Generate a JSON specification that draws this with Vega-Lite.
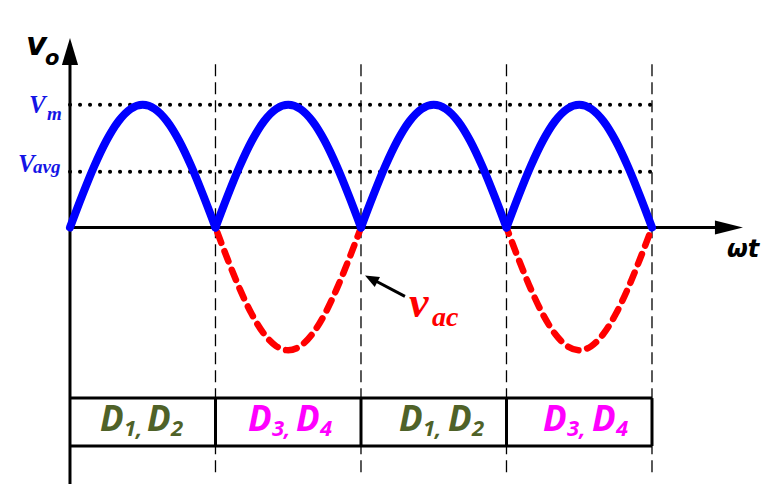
{
  "$schema": "https://vega.github.io/schema/vega-lite/v6.json",
  "autosize": {"type": "fit", "contains": "padding"},
  "width": 778,
  "height": 486,
  "padding": 0,
  "background": "white",
  "config": {"view": {"stroke": null}},
  "datasets": {
    "vac": [
      {"x": 0, "y": 0}, {"x": 0.0833, "y": 0.2588}, {"x": 0.1667, "y": 0.5}, {"x": 0.25, "y": 0.7071}, {"x": 0.3333, "y": 0.866}, {"x": 0.4167, "y": 0.9659}, {"x": 0.5, "y": 1}, {"x": 0.5833, "y": 0.9659}, {"x": 0.6667, "y": 0.866}, {"x": 0.75, "y": 0.7071}, {"x": 0.8333, "y": 0.5}, {"x": 0.9167, "y": 0.2588},
      {"x": 1, "y": 0}, {"x": 1.0833, "y": -0.2588}, {"x": 1.1667, "y": -0.5}, {"x": 1.25, "y": -0.7071}, {"x": 1.3333, "y": -0.866}, {"x": 1.4167, "y": -0.9659}, {"x": 1.5, "y": -1}, {"x": 1.5833, "y": -0.9659}, {"x": 1.6667, "y": -0.866}, {"x": 1.75, "y": -0.7071}, {"x": 1.8333, "y": -0.5}, {"x": 1.9167, "y": -0.2588},
      {"x": 2, "y": 0}, {"x": 2.0833, "y": 0.2588}, {"x": 2.1667, "y": 0.5}, {"x": 2.25, "y": 0.7071}, {"x": 2.3333, "y": 0.866}, {"x": 2.4167, "y": 0.9659}, {"x": 2.5, "y": 1}, {"x": 2.5833, "y": 0.9659}, {"x": 2.6667, "y": 0.866}, {"x": 2.75, "y": 0.7071}, {"x": 2.8333, "y": 0.5}, {"x": 2.9167, "y": 0.2588},
      {"x": 3, "y": 0}, {"x": 3.0833, "y": -0.2588}, {"x": 3.1667, "y": -0.5}, {"x": 3.25, "y": -0.7071}, {"x": 3.3333, "y": -0.866}, {"x": 3.4167, "y": -0.9659}, {"x": 3.5, "y": -1}, {"x": 3.5833, "y": -0.9659}, {"x": 3.6667, "y": -0.866}, {"x": 3.75, "y": -0.7071}, {"x": 3.8333, "y": -0.5}, {"x": 3.9167, "y": -0.2588},
      {"x": 4, "y": 0}
    ],
    "vo": [
      {"s": 1, "x": 0, "y": 0}, {"s": 1, "x": 0.0833, "y": 0.2588}, {"s": 1, "x": 0.1667, "y": 0.5}, {"s": 1, "x": 0.25, "y": 0.7071}, {"s": 1, "x": 0.3333, "y": 0.866}, {"s": 1, "x": 0.4167, "y": 0.9659}, {"s": 1, "x": 0.5, "y": 1}, {"s": 1, "x": 0.5833, "y": 0.9659}, {"s": 1, "x": 0.6667, "y": 0.866}, {"s": 1, "x": 0.75, "y": 0.7071}, {"s": 1, "x": 0.8333, "y": 0.5}, {"s": 1, "x": 0.9167, "y": 0.2588}, {"s": 1, "x": 1, "y": 0},
      {"s": 2, "x": 1, "y": 0}, {"s": 2, "x": 1.0833, "y": 0.2588}, {"s": 2, "x": 1.1667, "y": 0.5}, {"s": 2, "x": 1.25, "y": 0.7071}, {"s": 2, "x": 1.3333, "y": 0.866}, {"s": 2, "x": 1.4167, "y": 0.9659}, {"s": 2, "x": 1.5, "y": 1}, {"s": 2, "x": 1.5833, "y": 0.9659}, {"s": 2, "x": 1.6667, "y": 0.866}, {"s": 2, "x": 1.75, "y": 0.7071}, {"s": 2, "x": 1.8333, "y": 0.5}, {"s": 2, "x": 1.9167, "y": 0.2588}, {"s": 2, "x": 2, "y": 0},
      {"s": 3, "x": 2, "y": 0}, {"s": 3, "x": 2.0833, "y": 0.2588}, {"s": 3, "x": 2.1667, "y": 0.5}, {"s": 3, "x": 2.25, "y": 0.7071}, {"s": 3, "x": 2.3333, "y": 0.866}, {"s": 3, "x": 2.4167, "y": 0.9659}, {"s": 3, "x": 2.5, "y": 1}, {"s": 3, "x": 2.5833, "y": 0.9659}, {"s": 3, "x": 2.6667, "y": 0.866}, {"s": 3, "x": 2.75, "y": 0.7071}, {"s": 3, "x": 2.8333, "y": 0.5}, {"s": 3, "x": 2.9167, "y": 0.2588}, {"s": 3, "x": 3, "y": 0},
      {"s": 4, "x": 3, "y": 0}, {"s": 4, "x": 3.0833, "y": 0.2588}, {"s": 4, "x": 3.1667, "y": 0.5}, {"s": 4, "x": 3.25, "y": 0.7071}, {"s": 4, "x": 3.3333, "y": 0.866}, {"s": 4, "x": 3.4167, "y": 0.9659}, {"s": 4, "x": 3.5, "y": 1}, {"s": 4, "x": 3.5833, "y": 0.9659}, {"s": 4, "x": 3.6667, "y": 0.866}, {"s": 4, "x": 3.75, "y": 0.7071}, {"s": 4, "x": 3.8333, "y": 0.5}, {"s": 4, "x": 3.9167, "y": 0.2588}, {"s": 4, "x": 4, "y": 0}
    ],
    "axes": [
      {"x": 0, "y": 1.37, "x2": 0, "y2": -2.09},
      {"x": 0, "y": 0, "x2": 4.47, "y2": 0}
    ],
    "levels": [
      {"x": 0, "y": 1.0, "x2": 4.0, "y2": 1.0},
      {"x": 0, "y": 0.455, "x2": 4.0, "y2": 0.455}
    ],
    "bounds": [
      {"x": 1, "y": 1.33, "x2": 1, "y2": -2.03},
      {"x": 2, "y": 1.33, "x2": 2, "y2": -2.03},
      {"x": 3, "y": 1.33, "x2": 3, "y2": -2.03},
      {"x": 4, "y": 1.33, "x2": 4, "y2": -2.03}
    ],
    "table": [
      {"x": 0, "y": -1.39, "x2": 4, "y2": -1.39},
      {"x": 0, "y": -1.78, "x2": 4, "y2": -1.78},
      {"x": 1, "y": -1.39, "x2": 1, "y2": -1.78},
      {"x": 2, "y": -1.39, "x2": 2, "y2": -1.78},
      {"x": 3, "y": -1.39, "x2": 3, "y2": -1.78},
      {"x": 4, "y": -1.39, "x2": 4, "y2": -1.78}
    ],
    "pointer": [
      {"x": 2.069, "y": -0.415, "x2": 2.302, "y2": -0.561}
    ],
    "cellD": [
      {"x": 0.206, "y": -1.655, "t": "D", "pair": "D1,D2"},
      {"x": 0.529, "y": -1.655, "t": "D", "pair": "D1,D2"},
      {"x": 1.223, "y": -1.655, "t": "D", "pair": "D3,D4"},
      {"x": 1.553, "y": -1.655, "t": "D", "pair": "D3,D4"},
      {"x": 2.261, "y": -1.655, "t": "D", "pair": "D1,D2"},
      {"x": 2.598, "y": -1.655, "t": "D", "pair": "D1,D2"},
      {"x": 3.251, "y": -1.655, "t": "D", "pair": "D3,D4"},
      {"x": 3.588, "y": -1.655, "t": "D", "pair": "D3,D4"}
    ],
    "cellSub": [
      {"x": 0.371, "y": -1.695, "t": "1,", "pair": "D1,D2"},
      {"x": 0.694, "y": -1.695, "t": "2", "pair": "D1,D2"},
      {"x": 1.388, "y": -1.695, "t": "3,", "pair": "D3,D4"},
      {"x": 1.718, "y": -1.695, "t": "4", "pair": "D3,D4"},
      {"x": 2.426, "y": -1.695, "t": "1,", "pair": "D1,D2"},
      {"x": 2.763, "y": -1.695, "t": "2", "pair": "D1,D2"},
      {"x": 3.416, "y": -1.695, "t": "3,", "pair": "D3,D4"},
      {"x": 3.753, "y": -1.695, "t": "4", "pair": "D3,D4"}
    ]
  },
  "encoding": {
    "x": {"field": "x", "type": "quantitative", "scale": {"domain": [-0.481, 4.866], "nice": false, "zero": false}, "axis": null},
    "y": {"field": "y", "type": "quantitative", "scale": {"domain": [-2.098, 1.854], "nice": false, "zero": false}, "axis": null}
  },
  "layer": [
    {
      "data": {"name": "bounds"},
      "mark": {"type": "rule", "color": "black", "strokeWidth": 1.3, "strokeDash": [12, 6]},
      "encoding": {"x2": {"field": "x2"}, "y2": {"field": "y2"}}
    },
    {
      "data": {"name": "levels"},
      "mark": {"type": "rule", "color": "black", "strokeWidth": 4, "strokeDash": [0.1, 9.9], "strokeCap": "round"},
      "encoding": {"x2": {"field": "x2"}, "y2": {"field": "y2"}}
    },
    {
      "data": {"name": "table"},
      "mark": {"type": "rule", "color": "black", "strokeWidth": 3},
      "encoding": {"x2": {"field": "x2"}, "y2": {"field": "y2"}}
    },
    {
      "data": {"name": "axes"},
      "mark": {"type": "rule", "color": "black", "strokeWidth": 3},
      "encoding": {"x2": {"field": "x2"}, "y2": {"field": "y2"}}
    },
    {
      "data": {"values": [{"x": 0, "y": 1.435}]},
      "mark": {"type": "point", "shape": "M0,-1L0.6,1L-0.6,1Z", "size": 729, "filled": true, "color": "black", "opacity": 1}
    },
    {
      "data": {"values": [{"x": 4.529, "y": 0}]},
      "mark": {"type": "point", "shape": "M1,0L-1,-0.5L-1,0.5Z", "size": 784, "filled": true, "color": "black", "opacity": 1}
    },
    {
      "data": {"name": "vac"},
      "mark": {"type": "line", "color": "#FF0000", "strokeWidth": 6.5, "strokeDash": [11, 9], "strokeCap": "round", "interpolate": "monotone"},
      "encoding": {"order": {"field": "x"}}
    },
    {
      "data": {"name": "vo"},
      "mark": {"type": "line", "color": "#0000FF", "strokeWidth": 8, "strokeCap": "round", "strokeJoin": "round", "interpolate": "monotone"},
      "encoding": {"detail": {"field": "s"}, "order": {"field": "x"}}
    },
    {
      "data": {"name": "pointer"},
      "mark": {"type": "rule", "color": "black", "strokeWidth": 3},
      "encoding": {"x2": {"field": "x2"}, "y2": {"field": "y2"}}
    },
    {
      "data": {"values": [{"x": 2.07, "y": -0.417}]},
      "mark": {"type": "point", "shape": "M0,-1L0.8,1L-0.8,1Z", "size": 196, "angle": 298, "filled": true, "color": "black", "opacity": 1}
    },
    {
      "data": {"name": "cellD"},
      "mark": {"type": "text", "font": "Noto Sans", "fontWeight": "bold", "fontStyle": "italic", "fontSize": 35, "align": "left", "baseline": "alphabetic"},
      "encoding": {
        "text": {"field": "t"},
        "color": {"field": "pair", "type": "nominal", "scale": {"domain": ["D1,D2", "D3,D4"], "range": ["#4F6228", "#FF00FF"]}, "legend": null}
      }
    },
    {
      "data": {"name": "cellSub"},
      "mark": {"type": "text", "font": "Noto Sans", "fontWeight": "bold", "fontStyle": "italic", "fontSize": 22, "align": "left", "baseline": "alphabetic"},
      "encoding": {
        "text": {"field": "t"},
        "color": {"field": "pair", "type": "nominal", "scale": {"domain": ["D1,D2", "D3,D4"], "range": ["#4F6228", "#FF00FF"]}, "legend": null}
      }
    },
    {
      "data": {"values": [{"x": -0.303, "y": 1.407, "t": "v"}]},
      "mark": {"type": "text", "font": "DejaVu Sans", "fontWeight": "bold", "fontStyle": "italic", "fontSize": 32, "align": "left", "baseline": "alphabetic", "color": "black"},
      "encoding": {"text": {"field": "t"}}
    },
    {
      "data": {"values": [{"x": -0.172, "y": 1.325, "t": "o"}]},
      "mark": {"type": "text", "font": "DejaVu Sans", "fontWeight": "bold", "fontStyle": "italic", "fontSize": 21, "align": "left", "baseline": "alphabetic", "color": "black"},
      "encoding": {"text": {"field": "t"}}
    },
    {
      "data": {"values": [{"x": 4.515, "y": -0.244, "t": "ωt"}]},
      "mark": {"type": "text", "font": "DejaVu Sans", "fontWeight": "bold", "fontStyle": "italic", "fontSize": 24, "align": "left", "baseline": "alphabetic", "color": "black"},
      "encoding": {"text": {"field": "t"}}
    },
    {
      "data": {"values": [{"x": -0.282, "y": 0.93, "t": "V"}, {"x": -0.357, "y": 0.455, "t": "V"}]},
      "mark": {"type": "text", "font": "Liberation Serif", "fontWeight": "bold", "fontStyle": "italic", "fontSize": 25, "align": "left", "baseline": "alphabetic", "color": "#1414E6"},
      "encoding": {"text": {"field": "t"}}
    },
    {
      "data": {"values": [{"x": -0.158, "y": 0.878, "t": "m"}, {"x": -0.254, "y": 0.447, "t": "avg"}]},
      "mark": {"type": "text", "font": "Liberation Serif", "fontWeight": "bold", "fontStyle": "italic", "fontSize": 19, "align": "left", "baseline": "alphabetic", "color": "#1414E6"},
      "encoding": {"text": {"field": "t"}}
    },
    {
      "data": {"values": [{"x": 2.33, "y": -0.728, "t": "v"}]},
      "mark": {"type": "text", "font": "Liberation Serif", "fontWeight": "bold", "fontStyle": "italic", "fontSize": 44, "align": "left", "baseline": "alphabetic", "color": "#FF0000"},
      "encoding": {"text": {"field": "t"}}
    },
    {
      "data": {"values": [{"x": 2.488, "y": -0.8, "t": "ac"}]},
      "mark": {"type": "text", "font": "Liberation Serif", "fontWeight": "bold", "fontStyle": "italic", "fontSize": 28, "align": "left", "baseline": "alphabetic", "color": "#FF0000"},
      "encoding": {"text": {"field": "t"}}
    }
  ]
}
